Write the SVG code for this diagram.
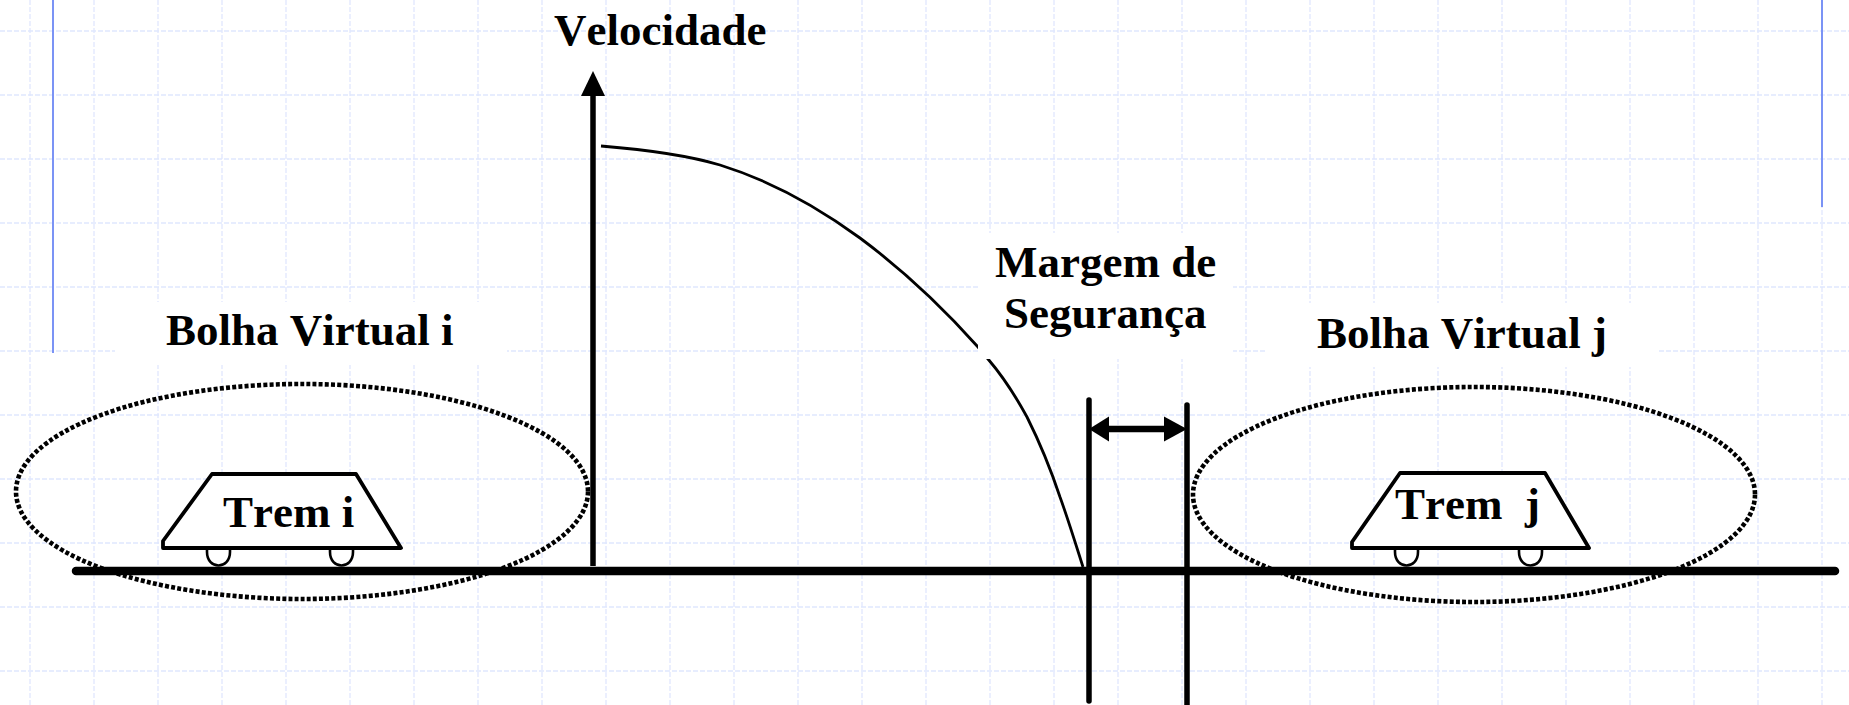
<svg xmlns="http://www.w3.org/2000/svg" width="1849" height="705" viewBox="0 0 1849 705">
<style>
.grid line{stroke:#e0e7fe;stroke-width:1.3;stroke-dasharray:5 2}
.blue{stroke:#7b93f5;stroke-width:2}
.mask{fill:#fff}
.bubble{fill:none;stroke:#000;stroke-width:4.6;stroke-dasharray:4 2.2}
.train{fill:#fff;stroke:#000;stroke-width:3.8;stroke-linejoin:round}
.wheel{fill:#fff;stroke:#000;stroke-width:2.6}
.thick{stroke:#000;stroke-width:5.5;stroke-linecap:round;fill:none}
.curve{stroke:#000;stroke-width:2.8;fill:none;stroke-linejoin:round}
text{font-family:"Liberation Serif","Times New Roman",serif;font-weight:bold;font-size:45px;fill:#000;white-space:pre;font-kerning:none}
</style>
<rect width="1849" height="705" fill="#fff"/>
<g id="grid" class="grid">
<line x1="30" y1="0" x2="30" y2="705"/><line x1="94" y1="0" x2="94" y2="705"/><line x1="158" y1="0" x2="158" y2="705"/><line x1="222" y1="0" x2="222" y2="705"/><line x1="286" y1="0" x2="286" y2="705"/><line x1="350" y1="0" x2="350" y2="705"/><line x1="414" y1="0" x2="414" y2="705"/><line x1="478" y1="0" x2="478" y2="705"/><line x1="542" y1="0" x2="542" y2="705"/><line x1="606" y1="0" x2="606" y2="705"/><line x1="670" y1="0" x2="670" y2="705"/><line x1="734" y1="0" x2="734" y2="705"/><line x1="798" y1="0" x2="798" y2="705"/><line x1="862" y1="0" x2="862" y2="705"/><line x1="926" y1="0" x2="926" y2="705"/><line x1="990" y1="0" x2="990" y2="705"/><line x1="1054" y1="0" x2="1054" y2="705"/><line x1="1118" y1="0" x2="1118" y2="705"/><line x1="1182" y1="0" x2="1182" y2="705"/><line x1="1246" y1="0" x2="1246" y2="705"/><line x1="1310" y1="0" x2="1310" y2="705"/><line x1="1374" y1="0" x2="1374" y2="705"/><line x1="1438" y1="0" x2="1438" y2="705"/><line x1="1502" y1="0" x2="1502" y2="705"/><line x1="1566" y1="0" x2="1566" y2="705"/><line x1="1630" y1="0" x2="1630" y2="705"/><line x1="1694" y1="0" x2="1694" y2="705"/><line x1="1758" y1="0" x2="1758" y2="705"/><line x1="1822" y1="0" x2="1822" y2="705"/>
<line x1="0" y1="31" x2="1849" y2="31"/><line x1="0" y1="95" x2="1849" y2="95"/><line x1="0" y1="159" x2="1849" y2="159"/><line x1="0" y1="223" x2="1849" y2="223"/><line x1="0" y1="287" x2="1849" y2="287"/><line x1="0" y1="351" x2="1849" y2="351"/><line x1="0" y1="415" x2="1849" y2="415"/><line x1="0" y1="479" x2="1849" y2="479"/><line x1="0" y1="543" x2="1849" y2="543"/><line x1="0" y1="607" x2="1849" y2="607"/><line x1="0" y1="671" x2="1849" y2="671"/>
</g>
<g id="margins">
<line class="blue" x1="53" y1="0" x2="53" y2="353"/>
<line class="blue" x1="1822" y1="0" x2="1822" y2="207"/>
</g>
<g id="connectors">
<path id="velocity-curve" class="curve" d="M601 146 C650 150 690 156 720 165 C765 179 815 205 860 238 C903 270 945 310 978 347 L988 359 C1000 373 1015 395 1027 417 C1040 443 1052 473 1060 497 C1068 519 1076 545 1083 567"/>
<rect class="mask" x="115" y="302" width="392" height="63"/>
<rect class="mask" x="978" y="233" width="255" height="126"/>
<rect class="mask" x="1267" y="303" width="391" height="64"/>
<ellipse class="bubble" cx="302" cy="491.5" rx="286" ry="107.5"/>
<ellipse class="bubble" cx="1474" cy="494.5" rx="281" ry="107.5"/>
<line id="ground" x1="76" y1="571" x2="1835" y2="571" stroke="#000" stroke-width="8.5" stroke-linecap="round"/>
<line id="velocity-axis" x1="593" y1="566" x2="593" y2="94" stroke="#000" stroke-width="5.5"/>
<polygon id="velocity-arrowhead" points="593,71 605,96 581,96" fill="#000"/>
<line id="margin-left" class="thick" x1="1089" y1="400" x2="1089" y2="701"/>
<line id="margin-right" class="thick" x1="1187" y1="405" x2="1187" y2="708"/>
<line id="margin-arrow" x1="1105" y1="429" x2="1168" y2="429" stroke="#000" stroke-width="6.5"/>
<polygon points="1089,429 1109,416.5 1109,441.5" fill="#000"/>
<polygon points="1187,429 1164,416.5 1164,441.5" fill="#000"/>
</g>
<g id="train-i">
<path class="wheel" d="M207 549 V552 C207 570 230 570 230 552 V549"/>
<path class="wheel" d="M330 549 V552 C330 570 353 570 353 552 V549"/>
<polygon class="train" points="212,474 356,474 401,548 163,548 163,541"/>
<text x="223" y="527">Trem i</text>
</g>
<g id="train-j">
<path class="wheel" d="M1395 549 V552 C1395 570 1418 570 1418 552 V549"/>
<path class="wheel" d="M1519 549 V552 C1519 570 1542 570 1542 552 V549"/>
<polygon class="train" points="1400,473 1545,473 1589,548 1352,548 1352,542"/>
<text x="1395" y="519">Trem  j</text>
</g>
<g id="label-velocidade"><text x="554" y="45">Velocidade</text></g>
<g id="label-bolha-i"><text x="166" y="345">Bolha Virtual i</text></g>
<g id="label-bolha-j"><text x="1317" y="348">Bolha Virtual j</text></g>
<g id="label-margem">
<text x="995" y="277">Margem de</text>
<text x="1004" y="328">Segurança</text>
</g>
</svg>
